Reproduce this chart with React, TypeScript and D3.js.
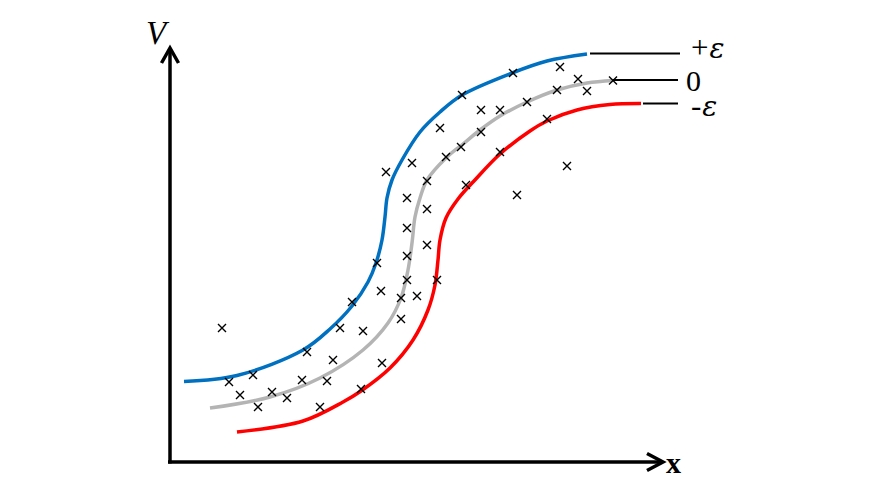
import React from "react";
import * as d3 from "d3";

// Data units: x along the horizontal axis, V along the vertical axis (arbitrary units)
const upperCurve: [number, number][] = [
  [14, 80.5], [67, 86.5], [133, 112], [160, 133], [182, 156], [198, 180], [206, 199],
  [212, 222], [215, 245], [217, 264], [222, 282], [232, 302], [250, 330], [270, 350],
  [292, 367], [342, 389], [377, 401], [417, 408],
];
const midCurve: [number, number][] = [
  [40, 54], [100, 65], [150, 84], [193, 112], [218, 139], [231, 164], [238, 192],
  [242, 219], [245, 245], [250, 264], [257, 282], [276, 304], [293, 318], [310, 332],
  [330, 346], [357, 360], [387, 372], [417, 379], [443, 381.5],
];
const lowerCurve: [number, number][] = [
  [67, 30], [133, 41], [173, 60], [191, 71], [220, 94], [243, 122], [258, 152],
  [265, 177], [268, 202], [270, 222], [276, 244], [288, 263], [304, 281], [330, 308],
  [360, 331], [377, 341], [407, 352], [440, 357.5], [471, 358.5],
];
const samples: [number, number][] = [
  [52, 134], [59, 80], [83, 87], [70, 67], [88, 55], [102, 70], [117, 64], [137, 110],
  [132, 82], [163, 102], [157, 81], [150, 55], [170, 134], [193, 131], [191, 73],
  [182, 160], [212, 99], [231, 143], [211, 171], [231, 164], [247, 166], [207, 199],
  [237, 206], [237, 182], [267, 182], [257, 217], [237, 234], [257, 253], [237, 264],
  [257, 281], [216, 290], [242, 299], [276, 305], [296, 277], [291, 315], [270, 334],
  [311, 330], [330, 310], [347, 267], [397, 296], [292, 367], [311, 352], [330, 352],
  [357, 360], [377, 343], [387, 372], [417, 371], [343, 389], [390, 395], [408, 383],
  [443, 381.5],
];
const bandLabels = ["+", "0", "-"];
const bandLeaderStart = [420, 443, 473];
const bandLeaderEnd = [510, 508, 508];
const bandLevels = [408.5, 382, 358.5];
const bandColors = ["#0070C0", "#B4B4B4", "#FF0000"];

const W = 872;
const H = 491;

export default function App() {
  const x = d3.scaleLinear().domain([0, 490]).range([170, 660]);
  const y = d3.scaleLinear().domain([0, 414]).range([462, 48]);
  const line = d3
    .line<[number, number]>()
    .x((d) => x(d[0]))
    .y((d) => y(d[1]))
    .curve(d3.curveCatmullRom.alpha(0.5));
  const curves = [upperCurve, midCurve, lowerCurve];
  const serif = "'Liberation Serif', 'Times New Roman', serif";
  const x0 = x(0);
  const y0 = y(0);
  const yTop = y(414);
  const xEnd = x(493);
  const s = 4;
  return (
    <svg
      width={W}
      height={H}
      style={{ position: "absolute", left: 0, top: 0, background: "#fff" }}
    >
      {curves.map((c, i) => (
        <path
          key={i}
          d={line(c) || ""}
          fill="none"
          stroke={bandColors[i]}
          strokeWidth={3.5}
          strokeLinecap="butt"
        />
      ))}
      {bandLabels.map((_, i) => (
        <line
          key={i}
          x1={x(bandLeaderStart[i])}
          x2={x(bandLeaderEnd[i])}
          y1={y(bandLevels[i])}
          y2={y(bandLevels[i])}
          stroke="#000"
          strokeWidth={2}
        />
      ))}
      {samples.map((d, i) => {
        const cx = x(d[0]);
        const cy = y(d[1]);
        return (
          <path
            key={i}
            d={`M${cx - s},${cy - s}L${cx + s},${cy + s}M${cx - s},${cy + s}L${cx + s},${cy - s}`}
            stroke="#000"
            strokeWidth={1.4}
          />
        );
      })}
      {/* axes */}
      <line x1={x0} x2={x0} y1={y0 + 1.5} y2={yTop + 2} stroke="#000" strokeWidth={3.5} />
      <line x1={x0 - 2} x2={xEnd - 2} y1={y0} y2={y0} stroke="#000" strokeWidth={3.5} />
      <polyline
        points={`${x0 - 8.5},${yTop + 15} ${x0},${yTop} ${x0 + 8.5},${yTop + 15}`}
        fill="none"
        stroke="#000"
        strokeWidth={3.5}
        strokeLinejoin="miter"
      />
      <polyline
        points={`${xEnd - 16},${y0 - 8.5} ${xEnd},${y0} ${xEnd - 16},${y0 + 8.5}`}
        fill="none"
        stroke="#000"
        strokeWidth={3.5}
        strokeLinejoin="miter"
      />
      <text x={146} y={44} fontFamily={serif} fontStyle="italic" fontSize={33}>
        V
      </text>
      <text x={666} y={473} fontFamily={serif} fontWeight="bold" fontSize={30}>
        x
      </text>
      {bandLabels.map((lab, i) => {
        const by = [58, 91, 116][i];
        const bx = [691, 686, 691][i];
        return (
          <text key={i} x={bx} y={by} fontFamily={serif} fontSize={lab === "0" ? 30 : 31}>
            {lab}
            {lab !== "0" ? (
              <tspan fontStyle="italic" fontFamily="'DejaVu Serif', serif" fontSize={28} dx={1}>
                ε
              </tspan>
            ) : null}
          </text>
        );
      })}
    </svg>
  );
}
